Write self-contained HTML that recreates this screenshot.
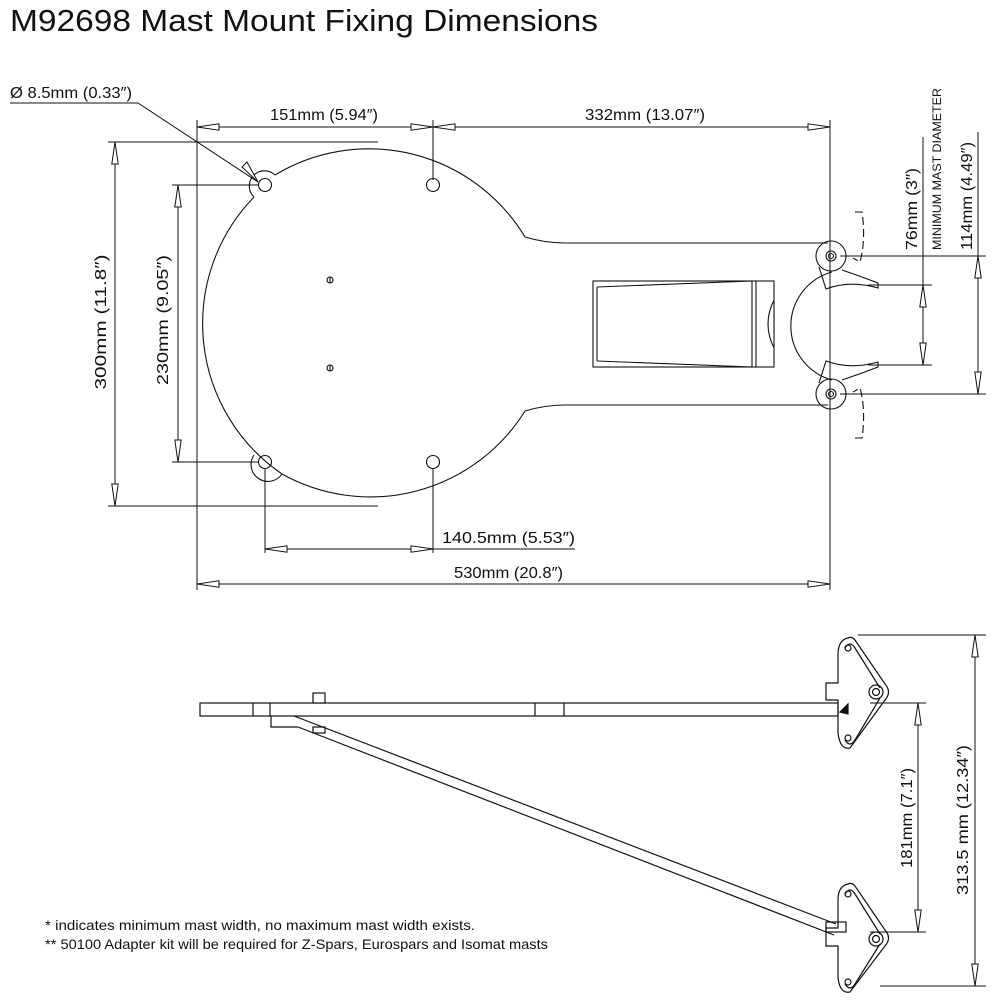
<!DOCTYPE html>
<html><head><meta charset="utf-8"><style>
html,body{margin:0;padding:0;background:#fff;width:1000px;height:1000px;overflow:hidden}
svg{display:block}
text{font-family:"Liberation Sans",sans-serif;fill:#111}
</style></head><body>
<svg width="1000" height="1000" viewBox="0 0 1000 1000" xmlns="http://www.w3.org/2000/svg">
<defs>
<marker id="a" viewBox="0 0 24 8" refX="23" refY="4" markerWidth="24" markerHeight="8" markerUnits="userSpaceOnUse" orient="auto-start-reverse">
<path d="M23,4 L1,0.8 L1,7.2 Z" fill="#fff" stroke="#111" stroke-width="1"/>
</marker>
</defs>
<text x="10" y="31" font-size="31" textLength="588" lengthAdjust="spacingAndGlyphs">M92698 Mast Mount Fixing Dimensions</text>

<g fill="none" stroke="#111" stroke-width="1.1">
<path d="M254,197 A182,182 0 0 0 282,474"/>
<path d="M282,474 A182,182 0 0 0 525,411 Q545,405 565,405 L828,405"/>
<path d="M275,175 A182,182 0 0 1 525,237 Q545,243 565,243 L828,243"/>
<path d="M275,175 A11,11 0 0 0 254,197"/>
<path d="M254,455 A11,11 0 0 0 282,474"/>
<circle cx="265" cy="185" r="6.5"/><circle cx="433" cy="185" r="6.5"/>
<circle cx="265" cy="462" r="6.5"/><circle cx="433" cy="462" r="6.5"/>
<circle cx="330" cy="280" r="3"/><line x1="330" y1="277" x2="330" y2="283"/>
<circle cx="330" cy="368" r="3"/><line x1="330" y1="365" x2="330" y2="371"/>
<rect x="593" y="281" width="181" height="86"/>
<path d="M597,287 L752,281 M597,361 L752,367 M597,287 L597,361"/>
<line x1="752" y1="281" x2="752" y2="367"/><line x1="756" y1="281" x2="756" y2="367"/>
<path d="M774,300 Q762,324 774,348"/>
<path d="M832,272 A56,56 0 0 0 832,380"/>
<circle cx="831" cy="256" r="15"/><circle cx="831" cy="256" r="5"/><circle cx="831" cy="256" r="2.5"/>
<circle cx="831" cy="394" r="15"/><circle cx="831" cy="394" r="5"/><circle cx="831" cy="394" r="2.5"/>
<path d="M819,267 L826,289 Q850,280 878,288 L878,283 Q860,276 842,270"/>
<path d="M819,383 L826,361 Q850,370 878,362 L878,367 Q860,374 842,380"/>
<path d="M855,212 L862,212 Q866,240 860,262 L853,258" stroke-dasharray="8,4"/>
<path d="M855,438 L862,438 Q866,410 860,388 L853,392" stroke-dasharray="8,4"/>
</g>

<g fill="none" stroke="#111" stroke-width="1">
<line x1="197" y1="120" x2="197" y2="590"/>
<line x1="433" y1="120" x2="433" y2="180"/>
<line x1="830" y1="120" x2="830" y2="590"/>
<line x1="197" y1="127" x2="433" y2="127" marker-start="url(#a)" marker-end="url(#a)"/>
<line x1="433" y1="127" x2="830" y2="127" marker-start="url(#a)" marker-end="url(#a)"/>
<line x1="108" y1="142" x2="378" y2="142"/>
<line x1="108" y1="506" x2="378" y2="506"/>
<line x1="115" y1="142" x2="115" y2="506" marker-start="url(#a)" marker-end="url(#a)"/>
<line x1="172" y1="185" x2="258" y2="185"/>
<line x1="172" y1="462" x2="258" y2="462"/>
<line x1="178" y1="185" x2="178" y2="462" marker-start="url(#a)" marker-end="url(#a)"/>
<line x1="265" y1="469" x2="265" y2="553"/>
<line x1="433" y1="469" x2="433" y2="553"/>
<line x1="265" y1="549" x2="433" y2="549" marker-start="url(#a)" marker-end="url(#a)"/>
<line x1="433" y1="549" x2="575" y2="549"/>
<line x1="197" y1="584" x2="830" y2="584" marker-start="url(#a)" marker-end="url(#a)"/>
<path d="M10,103 L138,103 L258,182"/>
<path d="M258,182 L242,167 L247,162 Z" fill="#fff"/>
<line x1="923" y1="137" x2="923" y2="285"/>
<line x1="868" y1="285" x2="932" y2="285"/>
<line x1="868" y1="365" x2="932" y2="365"/>
<line x1="923" y1="285" x2="923" y2="365" marker-start="url(#a)" marker-end="url(#a)"/>
<line x1="978" y1="132" x2="978" y2="256"/>
<line x1="840" y1="256" x2="986" y2="256"/>
<line x1="840" y1="394" x2="986" y2="394"/>
<line x1="978" y1="256" x2="978" y2="394" marker-start="url(#a)" marker-end="url(#a)"/>
</g>

<text x="10" y="98" font-size="16" textLength="122" lengthAdjust="spacingAndGlyphs">Ø 8.5mm (0.33″)</text>
<text x="270" y="120" font-size="16" textLength="108" lengthAdjust="spacingAndGlyphs">151mm (5.94″)</text>
<text x="585" y="120" font-size="16" textLength="120" lengthAdjust="spacingAndGlyphs">332mm (13.07″)</text>
<text x="442" y="543" font-size="16" textLength="133" lengthAdjust="spacingAndGlyphs">140.5mm (5.53″)</text>
<text x="454" y="578" font-size="16" textLength="109" lengthAdjust="spacingAndGlyphs">530mm (20.8″)</text>
<text transform="translate(106,322) rotate(-90)" font-size="16" text-anchor="middle" textLength="135" lengthAdjust="spacingAndGlyphs">300mm (11.8″)</text>
<text transform="translate(168,320) rotate(-90)" font-size="16" text-anchor="middle" textLength="130" lengthAdjust="spacingAndGlyphs">230mm (9.05″)</text>
<text transform="translate(917,209) rotate(-90)" font-size="16" text-anchor="middle" textLength="82" lengthAdjust="spacingAndGlyphs">76mm (3″)</text>
<text transform="translate(941,169) rotate(-90)" font-size="12" text-anchor="middle" textLength="162" lengthAdjust="spacingAndGlyphs">MINIMUM MAST DIAMETER</text>
<text transform="translate(972,196) rotate(-90)" font-size="16" text-anchor="middle" textLength="108" lengthAdjust="spacingAndGlyphs">114mm (4.49″)</text>

<g fill="none" stroke="#111" stroke-width="1.2">
<rect x="200" y="703" width="638" height="13"/>
<line x1="253" y1="703" x2="253" y2="716"/><line x1="270" y1="703" x2="270" y2="716"/>
<line x1="535" y1="703" x2="535" y2="716"/><line x1="564" y1="703" x2="564" y2="716"/>
<rect x="313" y="693" width="12" height="10" fill="#fff"/>
<path d="M271,716 L271,727 L298,727"/>
<rect x="313" y="727" width="12" height="6"/>
<path d="M294,716 L836,924"/>
<path d="M298,727 L834,935"/>
<path d="M848,638 Q838,640 838,655 L838,683 L826,683 L826,700 L838,700 L838,733 Q840,750 850,748 L885,700 Q892,692 885,684 L855,640 Q852,636 848,638 Z"/>
<path d="M845,648 Q850,640 855,648 L880,688 M845,740 Q850,748 855,740 L880,698"/>
<circle cx="848" cy="648" r="3"/><circle cx="848" cy="738" r="3"/>
<circle cx="876" cy="692" r="7"/><circle cx="876" cy="692" r="3.5"/>
<path d="M840,712 L848,704 L848,714 Z" fill="#111"/>
<path d="M848,884 Q838,886 838,900 L838,928 L826,928 L826,946 L838,946 L838,978 Q840,994 850,992 L885,946 Q892,938 885,930 L855,886 Q852,882 848,884 Z"/>
<path d="M845,894 Q850,886 855,894 L880,934 M845,984 Q850,992 855,984 L880,944"/>
<circle cx="848" cy="894" r="3"/><circle cx="848" cy="982" r="3"/>
<circle cx="876" cy="939" r="7"/><circle cx="876" cy="939" r="3.5"/>
<rect x="826" y="922" width="20" height="10"/>
</g>
<g fill="none" stroke="#111" stroke-width="1">
<line x1="858" y1="635" x2="986" y2="635"/>
<line x1="870" y1="703" x2="926" y2="703"/>
<line x1="870" y1="932" x2="926" y2="932"/>
<line x1="918" y1="703" x2="918" y2="932" marker-start="url(#a)" marker-end="url(#a)"/>
<line x1="880" y1="986" x2="986" y2="986"/>
<line x1="975" y1="635" x2="975" y2="986" marker-start="url(#a)" marker-end="url(#a)"/>
</g>
<text transform="translate(912,818) rotate(-90)" font-size="16" text-anchor="middle" textLength="100" lengthAdjust="spacingAndGlyphs">181mm (7.1″)</text>
<text transform="translate(968,820) rotate(-90)" font-size="16" text-anchor="middle" textLength="150" lengthAdjust="spacingAndGlyphs">313.5 mm (12.34″)</text>

<text x="45" y="930" font-size="14" textLength="430" lengthAdjust="spacingAndGlyphs">* indicates minimum mast width, no maximum mast width exists.</text>
<text x="45" y="949" font-size="14" textLength="503" lengthAdjust="spacingAndGlyphs">** 50100 Adapter kit will be required for Z-Spars, Eurospars and Isomat masts</text>
</svg>
</body></html>
